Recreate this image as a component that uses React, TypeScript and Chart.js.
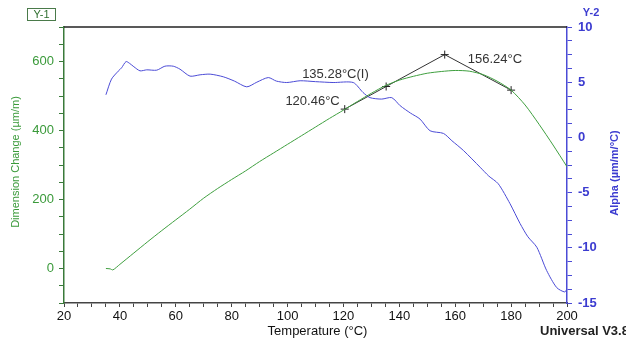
import React, { useEffect, useRef } from "react";
import { Chart, registerables } from "chart.js";

Chart.register(...registerables);

// ---- Data ----
const dimTemps = [35, 36.5, 37.5, 40, 45, 50, 55, 60, 65, 70, 75, 80, 85, 90, 95, 100, 105, 110, 115, 120, 125, 130, 135, 140, 145, 150, 155, 160, 165, 170, 175, 180, 185, 190, 195, 200];
const dimValues = [0, -1, -4, 12, 45, 78, 110, 141, 172, 204, 232, 258, 283, 310, 335, 360, 385, 410, 435, 459, 484, 508, 530, 546, 557, 566, 571, 574, 572, 562, 543, 517, 474, 418, 358, 295];

const alphaTemps = [35, 37, 39.4, 40.6, 42.2, 43.5, 45, 47.2, 49.6, 53.2, 56.1, 59.1, 61.5, 65.1, 68.7, 72.3, 77, 81, 85.4, 89, 93.1, 96, 99.7, 104.5, 110, 116.3, 123.5, 127, 129.5, 133.7, 137.3, 140.3, 144, 147.4, 151, 155.8, 158.8, 163, 168.9, 172, 175.4, 179.6, 183.2, 186, 189.2, 192.7, 196.3, 199.2, 200];
const alphaValues = [3.86, 5.28, 6.0, 6.3, 6.87, 6.7, 6.4, 6.03, 6.12, 6.09, 6.45, 6.45, 6.18, 5.55, 5.67, 5.73, 5.49, 5.1, 4.58, 5.0, 5.42, 5.1, 4.97, 5.13, 5.05, 4.97, 4.97, 4.07, 3.6, 3.47, 3.6, 2.87, 2.2, 1.66, 0.6, 0.36, -0.3, -1.2, -2.7, -3.5, -4.2, -6.0, -7.8, -9.0, -9.95, -12.05, -13.6, -14.0, -13.7];

const tangentTemps = [120.46, 135.28, 156.24, 180];
const tangentValues = [462, 527.5, 620, 517];

const markerLabels = ["120.46°C", "135.28°C(I)", "156.24°C", ""];

const xTitle = "Temperature (°C)";
const y1Title = "Dimension Change (µm/m)";
const y2Title = "Alpha (µm/m/°C)";

// ---- Style ----
const FONT = "'Liberation Sans', Arial, sans-serif";
const GREEN = "#3f9f3f";
const GREEN_TEXT = "#3a9a3a";
const BLUE = "#4b4bd6";
const BLUE_TEXT = "#3c3cd0";
const labelOffsets = [
  { dx: -5, dy: -8, align: "right" },
  { dx: -84, dy: -12, align: "left" },
  { dx: 23, dy: 5, align: "left" },
  { dx: 0, dy: 0, align: "left" },
];

const extrasPlugin = {
  id: "extras",
  afterDraw(chart: any) {
    const ctx = chart.ctx;
    const { left, right, top, bottom } = chart.chartArea;
    const xs = chart.scales.x;
    const ys = chart.scales.y;
    ctx.save();
    // top border
    ctx.strokeStyle = "#222";
    ctx.lineWidth = 1.5;
    ctx.beginPath();
    ctx.moveTo(left, top);
    ctx.lineTo(right, top);
    ctx.stroke();

    // marker labels
    ctx.fillStyle = "#333";
    ctx.font = `13px ${FONT}`;
    ctx.textBaseline = "middle";
    tangentTemps.forEach((t, i) => {
      const txt = markerLabels[i];
      if (!txt) return;
      const px = xs.getPixelForValue(t);
      const py = ys.getPixelForValue(tangentValues[i]);
      const o = labelOffsets[i];
      ctx.textAlign = o.align;
      ctx.fillText(txt, px + o.dx, py + o.dy);
    });

    // axis titles
    ctx.textAlign = "center";
    ctx.fillStyle = "#111";
    ctx.font = `13px ${FONT}`;
    ctx.fillText(xTitle, (left + right) / 2 + 2, 331);

    ctx.textAlign = "left";
    ctx.font = `bold 13px ${FONT}`;
    ctx.fillStyle = "#222";
    ctx.fillText("Universal V3.8", 540, 331);

    ctx.save();
    ctx.translate(16, (top + bottom) / 2 - 3);
    ctx.rotate(-Math.PI / 2);
    ctx.textAlign = "center";
    ctx.fillStyle = GREEN_TEXT;
    ctx.font = `11px ${FONT}`;
    ctx.fillText(y1Title, 0, 0);
    ctx.restore();

    ctx.save();
    ctx.translate(615, (top + bottom) / 2 + 8);
    ctx.rotate(-Math.PI / 2);
    ctx.textAlign = "center";
    ctx.fillStyle = BLUE_TEXT;
    ctx.font = `bold 11px ${FONT}`;
    ctx.fillText(y2Title, 0, 0);
    ctx.restore();

    // Y-1 box
    ctx.strokeStyle = "#4a7a4a";
    ctx.lineWidth = 1;
    ctx.strokeRect(27.5, 8.5, 28, 12);
    ctx.fillStyle = "#2f6f2f";
    ctx.font = `11px ${FONT}`;
    ctx.textAlign = "center";
    ctx.fillText("Y-1", 41.5, 15);

    // Y-2
    ctx.fillStyle = BLUE_TEXT;
    ctx.font = `bold 11px ${FONT}`;
    ctx.fillText("Y-2", 591, 13);
    ctx.restore();
  },
};

export default function App() {
  const ref = useRef<HTMLCanvasElement>(null);
  useEffect(() => {
    if (!ref.current) return;
    const chart = new Chart(ref.current, {
      type: "line",
      data: {
        datasets: [
          {
            label: "Dimension Change",
            data: dimTemps.map((t, i) => ({ x: t, y: dimValues[i] })),
            borderColor: GREEN,
            borderWidth: 1,
            pointRadius: 0,
            yAxisID: "y",
            tension: 0.25,
          },
          {
            label: "Alpha",
            data: alphaTemps.map((t, i) => ({ x: t, y: alphaValues[i] })),
            borderColor: BLUE,
            borderWidth: 1,
            pointRadius: 0,
            yAxisID: "y2",
            tension: 0.25,
          },
          {
            label: "Tangents",
            data: tangentTemps.map((t, i) => ({ x: t, y: tangentValues[i] })),
            borderColor: "#333",
            borderWidth: 1,
            pointStyle: "cross",
            pointRadius: 4,
            pointBorderColor: "#222",
            pointBorderWidth: 1,
            yAxisID: "y",
            tension: 0,
          },
        ],
      },
      options: {
        animation: false,
        responsive: false,
        events: [],
        layout: { padding: { top: 27, left: 0, right: 0, bottom: 0 } },
        plugins: { legend: { display: false }, tooltip: { enabled: false } },
        scales: {
          x: {
            type: "linear",
            position: "bottom",
            min: 20,
            max: 200,
            afterFit(s: any) { s.height = 35; },
            border: { color: "#444", width: 1.5 },
            grid: { drawOnChartArea: false, drawTicks: true, tickLength: 4, color: "#444" },
            ticks: {
              stepSize: 5,
              autoSkip: false,
              maxRotation: 0,
              padding: 2,
              color: "#111",
              font: { family: FONT, size: 13 },
              callback: (v: any) => (Number(v) % 20 === 0 ? String(v) : ""),
            },
          },
          y: {
            type: "linear",
            position: "left",
            min: -100,
            max: 700,
            afterFit(s: any) { s.width = 64; },
            border: { color: "#3a7a3a", width: 1.5 },
            grid: { drawOnChartArea: false, drawTicks: true, tickLength: 5, color: "#3a7a3a" },
            ticks: {
              stepSize: 50,
              autoSkip: false,
              padding: 5,
              color: GREEN_TEXT,
              font: { family: FONT, size: 13 },
              callback: (v: any) => (Number(v) % 200 === 0 ? String(v) : ""),
            },
          },
          y2: {
            type: "linear",
            position: "right",
            min: -15,
            max: 10,
            afterFit(s: any) { s.width = 59; },
            border: { color: BLUE, width: 1.5 },
            grid: { drawOnChartArea: false, drawTicks: true, tickLength: 5, color: BLUE },
            ticks: {
              stepSize: 1.25,
              autoSkip: false,
              padding: 6,
              color: BLUE_TEXT,
              font: { family: FONT, size: 13, weight: "bold" },
              callback: (v: any) => (Math.abs(Number(v) % 5) < 1e-6 ? String(Math.round(Number(v))) : ""),
            },
          },
        },
      },
      plugins: [extrasPlugin],
    } as any);
    return () => chart.destroy();
  }, []);
  return (
    <div style={{ position: "fixed", left: 0, top: 0, width: 626, height: 338, background: "#fff" }}>
      <canvas ref={ref} width={626} height={338} style={{ display: "block" }} />
    </div>
  );
}
